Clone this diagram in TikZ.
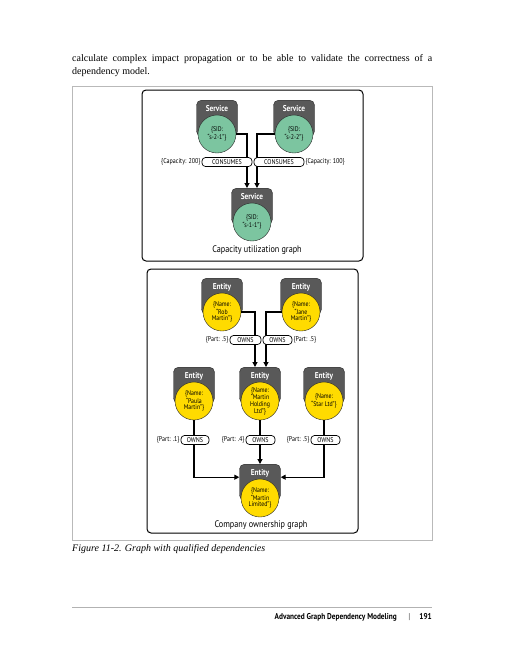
\documentclass[tikz,border=0pt]{standalone}
\usepackage{fontspec}
\setmainfont{Liberation Serif}
\newfontfamily\dgfont[FakeStretch=0.86]{PT Sans}
\usetikzlibrary{arrows.meta,positioning}

\definecolor{svcgreen}{HTML}{7CC5A0}
\definecolor{entyellow}{HTML}{FFDB00}

\begin{document}
\begin{tikzpicture}[x=1pt,y=-1pt,>={Triangle[length=5pt,width=5pt]}]

  \tikzstyle{head}=[rectangle,rounded corners=5pt,draw=black!85,fill=black!65,
    text=white,font=\dgfont\bfseries\fontsize{8.5}{9}\selectfont,
    minimum width=41pt,inner ysep=4pt,text height=7pt,text depth=21pt,anchor=north]
  \tikzstyle{service}=[circle,draw=black!85,fill=svcgreen,minimum size=38pt,
    inner sep=0pt,align=center,font=\dgfont\fontsize{6.8}{6.6}\selectfont]
  \tikzstyle{entity}=[service,fill=entyellow]
  \tikzstyle{rel}=[rectangle,rounded corners=3.5pt,draw=black,fill=white,line width=0.7pt,
    inner sep=0pt,minimum height=9pt,font=\dgfont\fontsize{7}{7}\selectfont]
  \tikzstyle{prop}=[inner sep=1pt,font=\dgfont\fontsize{7}{7}\selectfont]
  \tikzstyle{link}=[->,line width=1.1pt]
  \tikzstyle{panel}=[draw=black,line width=1pt,rounded corners=4pt]

  \useasboundingbox (0,0) rectangle (504,662);

  %% page text
  \node (para) at (72,54) [anchor=north west,inner sep=0pt,text width=360pt,align=justify,
        font=\rmfamily\fontsize{10}{13}\selectfont]
        {calculate complex impact propagation or to be able to validate the correctness of a
         \mbox{dependency} model.};
  \draw [draw=gray!55,line width=0.8pt] (72,86) rectangle (432,540);

  %% capacity utilization graph
  \draw [panel] (142,90) rectangle (363,261);

  \node (s21h) at (217,100) [head] {Service};
  \node (s21)  at (217,134) [service] {\{SID:\\“s-2-1”\}};
  \node (s22h) at (294,100) [head] {Service};
  \node (s22)  at (294,134) [service] {\{SID:\\“s-2-2”\}};
  \node (s11h) at (252,188) [head] {Service};
  \node (s11)  at (252,222) [service] {\{SID:\\“s-1-1”\}};

  \draw [link] (s21.east) -| ([xshift=-5pt]s11h.north);
  \draw [link] (s22.west) -| ([xshift=5pt]s11h.north);

  \node (c1) at (227,162) [rel,minimum width=50pt] {CONSUMES};
  \node (c2) at (279,162) [rel,minimum width=50pt] {CONSUMES};
  \node (cap1) [prop,left=0pt of c1]  {\{Capacity: 200\}};
  \node (cap2) [prop,right=0pt of c2] {\{Capacity: 100\}};

  \node (capg) at (257,250) [font=\dgfont\fontsize{9.5}{10}\selectfont] {Capacity utilization graph};

  %% company ownership graph
  \draw [panel] (147,269) rectangle (358,533);

  \node (robh)   at (222,278) [head] {Entity};
  \node (rob)    at (222,312) [entity] {\{Name:\\“Rob\\Martin”\}};
  \node (janeh)  at (301,278) [head] {Entity};
  \node (jane)   at (301,312) [entity] {\{Name:\\“Jane\\Martin”\}};
  \node (paulah) at (194,367) [head] {Entity};
  \node (paula)  at (194,401) [entity] {\{Name:\\“Paula\\Martin”\}};
  \node (holdh)  at (260,367) [head] {Entity};
  \node (hold)   at (260,401) [entity] {\{Name:\\“Martin\\Holding\\Ltd”\}};
  \node (starh)  at (324,367) [head] {Entity};
  \node (star)   at (324,401) [entity] {\{Name:\\“Star Ltd”\}};
  \node (ltdh)   at (260,464) [head] {Entity};
  \node (ltd)    at (260,498) [entity] {\{Name:\\“Martin\\Limited”\}};

  \draw [link] (rob.east)   -| ([xshift=-5pt]holdh.north);
  \draw [link] (jane.west)  -| ([xshift=6pt]holdh.north);
  \draw [link] (paula.south) |- ([yshift=5pt]ltdh.west);
  \draw [link] (hold.south)  -- (ltdh.north);
  \draw [link] (star.south)  |- ([yshift=5pt]ltdh.east);

  \node (o1) at (245.5,340) [rel,minimum width=31pt] {OWNS};
  \node (o2) at (277.5,340) [rel,minimum width=29pt] {OWNS};
  \node (o3) at (195,440)   [rel,minimum width=28pt] {OWNS};
  \node (o4) at (260.5,440) [rel,minimum width=29pt] {OWNS};
  \node (o5) at (325.5,440) [rel,minimum width=29pt] {OWNS};
  \node (p1) [prop,left=0pt of o1]  {\{Part: .5\}};
  \node (p2) [prop,right=0pt of o2] {\{Part: .5\}};
  \node (p3) [prop,left=0pt of o3]  {\{Part: .1\}};
  \node (p4) [prop,left=0pt of o4]  {\{Part: .4\}};
  \node (p5) [prop,left=0pt of o5]  {\{Part: .5\}};

  \node (owng) at (261,525) [font=\dgfont\fontsize{9.5}{10}\selectfont] {Company ownership graph};

  %% caption and footer
  \node (fig) at (72,549) [anchor=west,inner sep=0pt,font=\rmfamily\itshape\fontsize{10}{12}\selectfont]
        {Figure 11-2. Graph with qualified dependencies};
  \draw [draw=gray!60,line width=0.8pt] (72,607) -- (432,607);
  \node (foot) at (432,617) [anchor=east,inner sep=0pt,font=\dgfont\bfseries\fontsize{8.5}{9}\selectfont]
        {Advanced Graph Dependency Modeling\hspace{12pt}{\color{gray}|}\hspace{9pt}191};

\end{tikzpicture}
\end{document}
